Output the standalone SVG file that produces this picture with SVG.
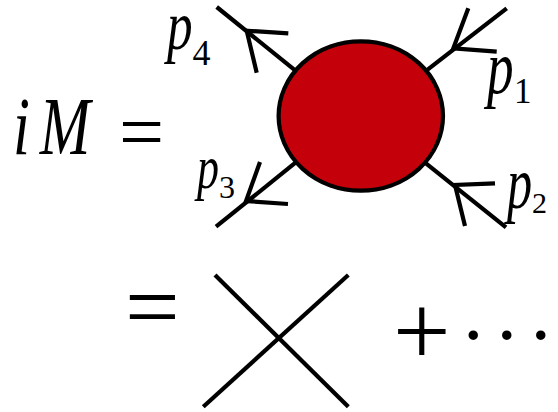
<svg xmlns="http://www.w3.org/2000/svg" width="558" height="412" viewBox="0 0 558 412">
<style>
.ln{stroke:#000;stroke-width:4.2;fill:none}
.ar{stroke:#000;stroke-width:4.2;fill:none;stroke-linejoin:miter;stroke-miterlimit:10}
.mi{font-family:"Liberation Serif",serif;font-style:italic;fill:#000}
.rm{font-family:"Liberation Serif",serif;fill:#000}
</style>
<rect width="558" height="412" fill="#fff"/>
<g id="lhs">
 <text class="mi" font-size="82" transform="translate(13,154) scale(0.74,1)">i<tspan dx="13.4">M</tspan></text>
 <text class="rm" font-size="80" transform="translate(119,159)">=</text>
</g>
<g id="connectors">
 <line class="ln" x1="216.7" y1="7" x2="296.7" y2="71.7"/>
 <polyline class="ar" points="288.3,33.3 246.7,30.7 256.7,72.7"/>
 <line class="ln" x1="296.7" y1="161.7" x2="216" y2="226.7"/>
 <polyline class="ar" points="288,204 246,201 260,162"/>
 <line class="ln" x1="425" y1="71.7" x2="506.7" y2="8.3"/>
 <polyline class="ar" points="496.7,51.7 453.3,48.3 468.3,8.3"/>
 <line class="ln" x1="425" y1="162.7" x2="506" y2="227.3"/>
 <polyline class="ar" points="495,183.3 455,185 465,226"/>
</g>
<g id="blob">
 <ellipse cx="360.8" cy="116" rx="82.2" ry="74.7" fill="#c4000b" stroke="#000" stroke-width="4.2"/>
</g>
<g id="label-p4">
 <text class="mi" font-size="70" transform="translate(167,49) scale(0.73,1)">p</text>
 <text class="rm" font-size="36" x="192.5" y="65">4</text>
</g>
<g id="label-p1">
 <text class="mi" font-size="76" transform="translate(487,93) scale(0.7,1)">p</text>
 <text class="rm" font-size="35" x="514" y="102.5">1</text>
</g>
<g id="label-p2">
 <text class="mi" font-size="74" transform="translate(507,208) scale(0.68,1)">p</text>
 <text class="rm" font-size="30" x="532" y="213">2</text>
</g>
<g id="label-p3">
 <text class="mi" font-size="62" transform="translate(197,188) scale(0.71,1)">p</text>
 <text class="rm" font-size="32" x="219" y="197.5">3</text>
</g>
<g id="rhs">
 <text class="rm" font-size="97" transform="translate(125,339)">=</text>
 <g id="vertex">
  <line class="ln" stroke-width="5" x1="215" y1="275" x2="348.3" y2="406.7"/>
  <line class="ln" stroke-width="5" x1="348.3" y1="275" x2="203.3" y2="406.7"/>
 </g>
 <text class="rm" font-size="102" x="393" y="364.5">+</text>
 <text class="rm" font-size="80" x="463.3 496.7 530.7" y="339">...</text>
</g>
</svg>
